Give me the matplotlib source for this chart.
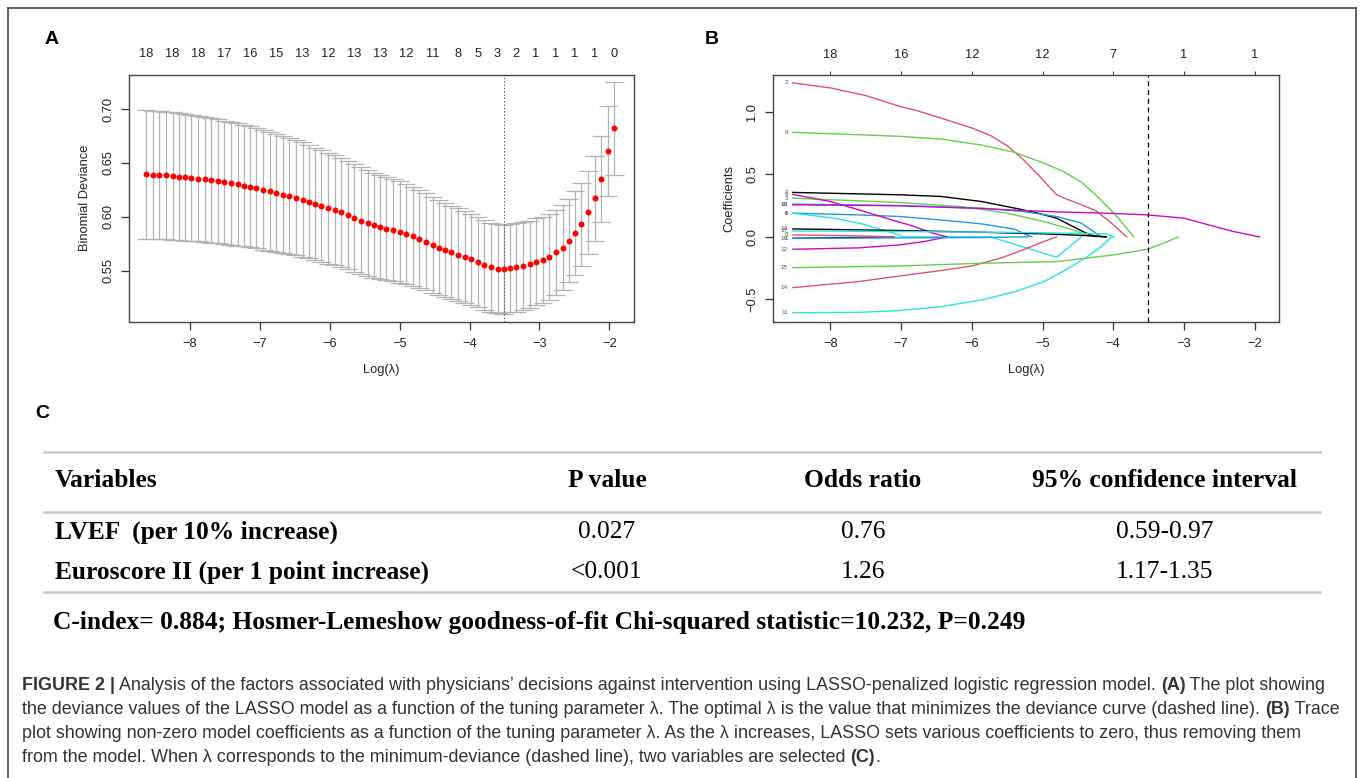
import matplotlib.pyplot as plt
from matplotlib.lines import Line2D

W, H = 1360, 778

# ---- panel A: cross-validated binomial deviance ----
log_lambda = [-1.93, -2.02, -2.12, -2.21, -2.30, -2.40, -2.49, -2.58, -2.67, -2.77,
              -2.86, -2.95, -3.05, -3.14, -3.23, -3.33, -3.42, -3.51, -3.60, -3.70,
              -3.79, -3.88, -3.98, -4.07, -4.16, -4.26, -4.35, -4.44, -4.53, -4.63,
              -4.72, -4.81, -4.91, -5.00, -5.09, -5.19, -5.28, -5.37, -5.46, -5.56,
              -5.65, -5.74, -5.84, -5.93, -6.02, -6.12, -6.21, -6.30, -6.39, -6.49,
              -6.58, -6.67, -6.77, -6.86, -6.95, -7.05, -7.14, -7.23, -7.32, -7.42,
              -7.51, -7.60, -7.70, -7.79, -7.88, -7.98, -8.07, -8.16, -8.25, -8.35,
              -8.44, -8.53, -8.63]
deviance = [0.682, 0.661, 0.635, 0.617, 0.604, 0.593, 0.585, 0.578, 0.5715, 0.567,
            0.563, 0.560, 0.5585, 0.556, 0.5545, 0.553, 0.5525, 0.5515, 0.552, 0.553,
            0.5555, 0.558, 0.5605, 0.5625, 0.565, 0.567, 0.569, 0.5715, 0.574, 0.577,
            0.5795, 0.582, 0.584, 0.586, 0.5875, 0.589, 0.5905, 0.592, 0.594, 0.5965,
            0.599, 0.6015, 0.604, 0.606, 0.608, 0.610, 0.612, 0.614, 0.616, 0.6175,
            0.619, 0.6205, 0.622, 0.6235, 0.625, 0.6265, 0.628, 0.629, 0.630, 0.631,
            0.632, 0.633, 0.634, 0.6348, 0.6355, 0.636, 0.6367, 0.6373, 0.6378, 0.6383,
            0.6387, 0.639, 0.6393]
deviance_se = [0.0428, 0.0418, 0.0402, 0.0392, 0.0386, 0.0384, 0.0386, 0.0389, 0.0393, 0.0396,
               0.0399, 0.0401, 0.0403, 0.0405, 0.0407, 0.0409, 0.0410, 0.0412, 0.0413, 0.0415,
               0.0417, 0.0420, 0.0423, 0.0426, 0.0430, 0.0434, 0.0438, 0.0442, 0.0446, 0.0450,
               0.0455, 0.0460, 0.0465, 0.0470, 0.0474, 0.0478, 0.0482, 0.0486, 0.0490, 0.0494,
               0.0498, 0.0502, 0.0506, 0.0510, 0.0514, 0.0518, 0.0522, 0.0526, 0.0530, 0.0534,
               0.0538, 0.0542, 0.0546, 0.0550, 0.0554, 0.0557, 0.0560, 0.0564, 0.0567, 0.0570,
               0.0573, 0.0576, 0.0579, 0.0582, 0.0584, 0.0586, 0.0588, 0.0590, 0.0591, 0.0592,
               0.0593, 0.0594, 0.0595]
a_top_pos = [-8.63, -8.25, -7.88, -7.51, -7.14, -6.77, -6.39, -6.02, -5.65, -5.28, -4.91,
             -4.53, -4.16, -3.88, -3.60, -3.33, -3.05, -2.77, -2.49, -2.21, -1.93]
a_top_lab = ['18', '18', '18', '17', '16', '15', '13', '12', '13', '13', '12',
             '11', '8', '5', '3', '2', '1', '1', '1', '1', '0']
a_yticks = [0.55, 0.60, 0.65, 0.70]
a_ylabels = ['0.55', '0.60', '0.65', '0.70']
lambda_min = -3.51

# ---- panel B: coefficient paths (log lambda, coefficient) ----
coef_1 = [(-8.53, -0.011), (-7.6, -0.005), (-7.1, 0.0)]
coef_2 = [(-8.53, 1.233), (-8.0, 1.193), (-7.49, 1.13), (-7.02, 1.045), (-6.79, 1.013),
          (-6.44, 0.952), (-6.0, 0.872), (-5.74, 0.813), (-5.5, 0.73), (-5.27, 0.618),
          (-5.04, 0.484), (-4.80, 0.337), (-4.69, 0.31), (-4.45, 0.257), (-4.25, 0.211),
          (-4.05, 0.123), (-3.81, 0.0)]
coef_3 = [(-8.53, 0.31), (-7.02, 0.275), (-6.15, 0.243), (-5.5, 0.19), (-4.98, 0.123),
          (-4.57, 0.056), (-4.34, 0.008), (-4.22, 0.0)]
coef_4 = [(-8.53, 0.19), (-7.6, 0.176), (-7.02, 0.163), (-6.44, 0.136), (-5.86, 0.104),
          (-5.39, 0.061), (-5.22, 0.016), (-5.15, 0.0)]
coef_5 = [(-8.53, 0.19), (-7.95, 0.15), (-7.55, 0.104), (-7.27, 0.056), (-7.1, 0.029),
          (-6.97, 0.0), (-5.74, 0.0), (-4.80, -0.163), (-4.45, 0.0)]
coef_6 = [(-8.53, 0.34), (-8.0, 0.283), (-7.6, 0.217), (-7.13, 0.136), (-6.84, 0.088),
          (-6.55, 0.03), (-6.35, 0.0)]
coef_7 = [(-8.53, 0.356), (-7.02, 0.337), (-6.44, 0.324), (-5.86, 0.283), (-5.39, 0.23),
          (-5.1, 0.195), (-4.8, 0.15), (-4.57, 0.083), (-4.4, 0.035), (-4.28, 0.008), (-4.1, 0.0)]
coef_8 = [(-8.53, 0.016), (-7.6, 0.008), (-7.1, 0.0)]
coef_9 = [(-8.53, 0.837), (-7.6, 0.818), (-7.02, 0.805), (-6.44, 0.783), (-5.86, 0.735),
          (-5.39, 0.676), (-4.98, 0.59), (-4.69, 0.519), (-4.45, 0.438), (-4.25, 0.337),
          (-3.99, 0.19), (-3.81, 0.07), (-3.71, 0.0)]
coef_10 = [(-8.53, 0.262), (-7.02, 0.251), (-5.86, 0.23), (-5.27, 0.203), (-4.8, 0.163),
           (-4.45, 0.11), (-4.2, 0.013), (-4.16, 0.0)]
coef_11 = [(-8.53, -0.607), (-7.6, -0.604), (-7.02, -0.59), (-6.44, -0.559), (-5.86, -0.505),
           (-5.39, -0.439), (-4.98, -0.358), (-4.69, -0.27), (-4.4, -0.171), (-4.17, -0.078),
           (-4.02, 0.0)]
coef_12 = [(-8.53, -0.099), (-7.6, -0.088), (-7.02, -0.064), (-6.67, -0.037), (-6.35, 0.0)]
coef_13 = [(-8.53, 0.064), (-7.02, 0.051), (-5.86, 0.037), (-4.98, 0.024), (-4.4, 0.011), (-4.1, 0.0)]
coef_14 = [(-8.53, -0.406), (-7.6, -0.358), (-7.02, -0.313), (-6.44, -0.27), (-6.0, -0.233),
           (-5.57, -0.166), (-5.22, -0.091), (-4.98, -0.037), (-4.80, 0.0)]
coef_15 = [(-8.53, -0.246), (-7.02, -0.233), (-5.86, -0.211), (-4.8, -0.198), (-4.4, -0.171),
           (-3.99, -0.144), (-3.52, -0.099), (-3.29, -0.051), (-3.08, 0.0)]
coef_16 = [(-8.53, -0.012), (-7.02, -0.008), (-5.86, -0.005), (-5.2, 0.0)]
coef_17 = [(-8.53, 0.048), (-7.02, 0.043), (-5.27, 0.035), (-4.1, 0.024), (-3.99, 0.0)]
coef_18 = [(-8.53, 0.257), (-7.02, 0.249), (-5.86, 0.227), (-5.27, 0.211), (-4.8, 0.2),
           (-4.1, 0.19), (-3.52, 0.176), (-3.0, 0.15), (-2.65, 0.096), (-2.3, 0.043), (-1.93, 0.0)]
coef_paths = [coef_1, coef_2, coef_3, coef_4, coef_5, coef_6, coef_7, coef_8, coef_9,
              coef_10, coef_11, coef_12, coef_13, coef_14, coef_15, coef_16, coef_17, coef_18]
path_end = -1.93
b_top_pos = [-8, -7, -6, -5, -4, -3, -2]
b_top_lab = ['18', '16', '12', '12', '7', '1', '1']
b_yticks = [-0.5, 0.0, 0.5, 1.0]
b_ylabels = ['\u22120.5', '0.0', '0.5', '1.0']
x_ticks = [-8, -7, -6, -5, -4, -3, -2]
x_ticklabels = ['\u22128', '\u22127', '\u22126', '\u22125', '\u22124', '\u22123', '\u22122']

# ---- panel C: table ----
tbl_header = ['Variables', 'P value', 'Odds ratio', '95% confidence interval']
tbl_vars = ['LVEF  (per 10% increase)', 'Euroscore II (per 1 point increase)']
tbl_p = ['0.027', '<0.001']
tbl_or = ['0.76', '1.26']
tbl_ci = ['0.59-0.97', '1.17-1.35']
tbl_note = 'C-index= 0.884; Hosmer-Lemeshow goodness-of-fit Chi-squared statistic=10.232, P=0.249'

caption = [
    [('FIGURE 2 |', True), (' Analysis of the factors associated with physicians\u2019 decisions against '
                            'intervention using LASSO-penalized logistic regression model. ', False),
     ('(A)', True), (' The plot showing', False)],
    [('the deviance values of the LASSO model as a function of the tuning parameter \u03bb. The optimal '
      '\u03bb is the value that minimizes the deviance curve (dashed line). ', False),
     ('(B)', True), (' Trace', False)],
    [('plot showing non-zero model coefficients as a function of the tuning parameter \u03bb. As the '
      '\u03bb increases, LASSO sets various coefficients to zero, thus removing them', False)],
    [('from the model. When \u03bb corresponds to the minimum-deviance (dashed line), two variables '
      'are selected ', False), ('(C)', True), ('.', False)],
]

r_palette = ['#000000', '#DF536B', '#61D04F', '#2297E6', '#28E2E5', '#CD0BBC']

plt.rcParams['font.family'] = ['Liberation Sans', 'DejaVu Sans']
SERIF = ['Liberation Serif', 'DejaVu Serif']
INK = '#222222'


def px_axes(fig, left, top, right, bottom):
    return fig.add_axes([left / W, 1 - bottom / H, (right - left) / W, (bottom - top) / H])


def ftext(fig, x, y, s, **kw):
    return fig.text(x / W, 1 - y / H, s, **kw)


def hline(fig, x0, x1, y, **kw):
    fig.add_artist(Line2D([x0 / W, x1 / W], [1 - y / H, 1 - y / H], transform=fig.transFigure, **kw))


def r_style(ax, xlim, ylim, yticks, ylabels):
    ax.set_xlim(xlim)
    ax.set_ylim(ylim)
    ax.set_xticks(x_ticks)
    ax.set_xticklabels(x_ticklabels)
    ax.set_yticks(yticks)
    ax.set_yticklabels(ylabels, rotation=90, va='center')
    ax.tick_params(direction='out', length=5.5, width=0.9, colors='#333333',
                   labelcolor=INK, labelsize=9.3)
    ax.tick_params(axis='x', pad=6)
    ax.tick_params(axis='y', pad=5)
    for sp in ax.spines.values():
        sp.set_color('#444444')
        sp.set_linewidth(1.0)


fig = plt.figure(figsize=(W / 100, H / 100), dpi=100)
fig.patch.set_facecolor('white')

# outer frame
for xs, ys in [([8, 8], [8, 778]), ([8, 1355.5], [8, 8]), ([1355.5, 1355.5], [8, 778])]:
    fig.add_artist(Line2D([x / W for x in xs], [1 - y / H for y in ys],
                          transform=fig.transFigure, color='#555555', lw=1.3))

# ---------------- panel A ----------------
axA = px_axes(fig, 128.7, 75, 634, 321.7)
r_style(axA, (-8.877, -1.647), (0.5027, 0.7315), a_yticks, a_ylabels)
barw = 0.02 * (max(log_lambda) - min(log_lambda))
lower = [m - s for m, s in zip(deviance, deviance_se)]
upper = [m + s for m, s in zip(deviance, deviance_se)]
axA.vlines(log_lambda, lower, upper, color='#b3b3b3', lw=0.9)
axA.hlines(upper, [x - barw for x in log_lambda], [x + barw for x in log_lambda], color='#b3b3b3', lw=0.9)
axA.hlines(lower, [x - barw for x in log_lambda], [x + barw for x in log_lambda], color='#b3b3b3', lw=0.9)
axA.plot(log_lambda, deviance, 'o', color='red', markersize=4.3, markeredgewidth=0)
axA.axvline(lambda_min, color='#555555', lw=0.8, linestyle=(0, (1.2, 1.8)))
axA.set_xlabel('Log(\u03bb)', fontsize=9.3, color=INK, labelpad=10.5)
axA.set_ylabel('Binomial Deviance', fontsize=9.3, color=INK, labelpad=8)
topA = axA.twiny()
topA.set_xlim(axA.get_xlim())
topA.set_xticks(a_top_pos)
topA.set_xticklabels(a_top_lab)
topA.tick_params(length=0, pad=11, labelsize=9.3, labelcolor=INK)
for sp in topA.spines.values():
    sp.set_visible(False)

# ---------------- panel B ----------------
axB = px_axes(fig, 772.7, 75, 1279, 321.7)
r_style(axB, (-8.815, -1.656), (-0.679, 1.296), b_yticks, b_ylabels)
for i, path in enumerate(coef_paths):
    xs = [p[0] for p in path]
    ys = [p[1] for p in path]
    if xs[-1] > path_end:
        xs.append(path_end)
        ys.append(0.0)
    axB.plot(xs, ys, color=r_palette[i % 6], lw=1.0, solid_joinstyle='round')
    axB.text(-8.60, ys[0], str(i + 1), fontsize=4.6, color='#555555', ha='right', va='center')
axB.axvline(lambda_min, color='black', lw=0.9, linestyle=(0, (4, 3)))
axB.set_xlabel('Log(\u03bb)', fontsize=9.3, color=INK, labelpad=10.5)
axB.set_ylabel('Coefficients', fontsize=9.3, color=INK, labelpad=8)
topB = axB.twiny()
topB.set_xlim(axB.get_xlim())
topB.set_xticks(b_top_pos)
topB.set_xticklabels(b_top_lab)
topB.tick_params(length=3, width=0.8, colors='#444444', pad=7, labelsize=9.3, labelcolor=INK)
for sp in topB.spines.values():
    sp.set_visible(False)

# panel letters
ftext(fig, 52, 40, 'A', fontsize=14, fontweight='bold', ha='center', va='center')
ftext(fig, 712, 40, 'B', fontsize=14, fontweight='bold', ha='center', va='center')
ftext(fig, 42, 413, 'C', fontsize=14, fontweight='bold', ha='center', va='center')

# ---------------- panel C: table ----------------
rule = dict(color='#c8c8c8', lw=1.8)
hline(fig, 44, 1320, 452, **rule)
hline(fig, 44, 1320, 512, **rule)
hline(fig, 44, 1320, 592, **rule)
col_x = [55, 607, 863, 1165]
hdr_y, row_y = 481, [532, 572]
FS = 18.4
for j, h in enumerate(tbl_header):
    ftext(fig, col_x[j], hdr_y, h, family=SERIF, fontweight='bold', fontsize=FS,
          ha='left' if j == 0 else 'center', va='center')
for i in range(len(tbl_vars)):
    ftext(fig, col_x[0], row_y[i], tbl_vars[i], family=SERIF, fontweight='bold', fontsize=FS,
          ha='left', va='center')
    for j, col in enumerate([tbl_p, tbl_or, tbl_ci]):
        ftext(fig, col_x[j + 1], row_y[i], col[i], family=SERIF, fontsize=FS, ha='center', va='center')
ftext(fig, 53, 623, tbl_note, family=SERIF, fontweight='bold', fontsize=FS, ha='left', va='center')

# ---------------- caption ----------------
renderer = fig.canvas.get_renderer()
for li, parts in enumerate(caption):
    x = 22
    y = 686 + li * 24
    for txt, bold in parts:
        t = ftext(fig, x, y, txt, fontsize=12.85, fontweight='bold' if bold else 'normal',
                  color='#333333', ha='left', va='center')
        x += t.get_window_extent(renderer=renderer).width

fig.savefig('out.png', dpi=100)
